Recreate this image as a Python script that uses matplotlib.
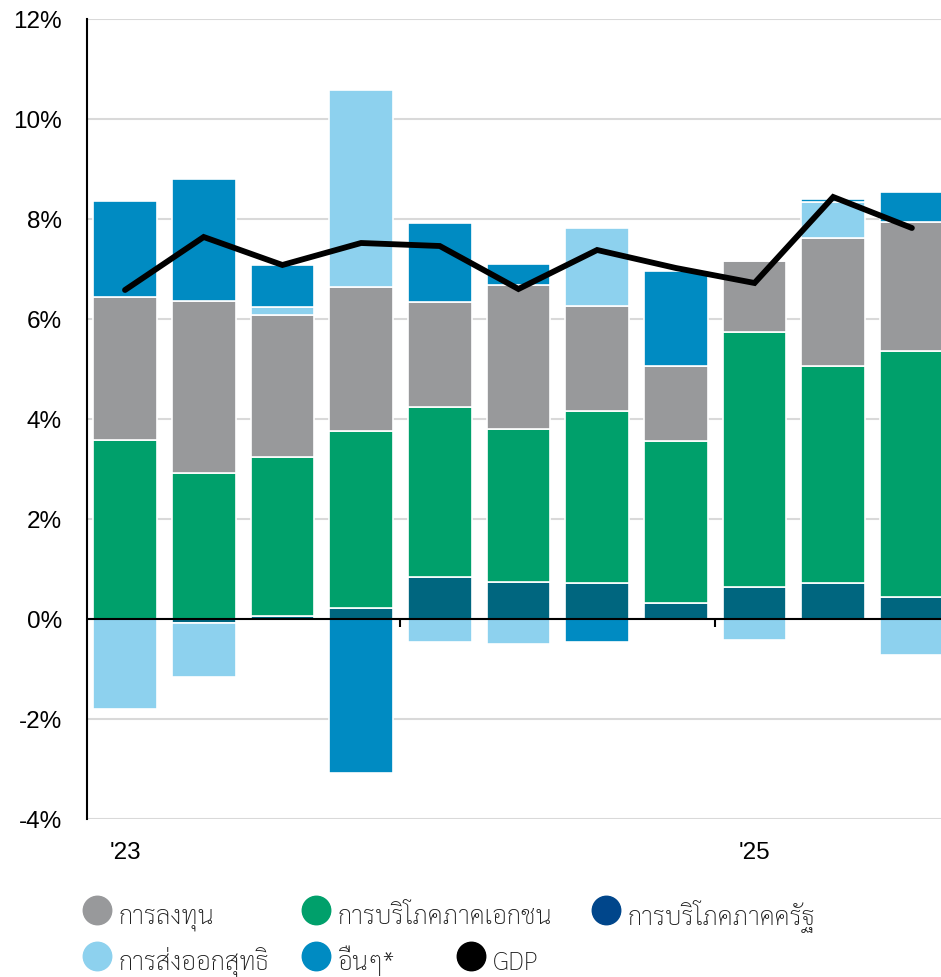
import numpy as np
import matplotlib
matplotlib.use("Agg")
import matplotlib.pyplot as plt
from matplotlib.lines import Line2D

# %% data (quarterly contributions, % points)
quarters = ["1Q23", "2Q23", "3Q23", "4Q23", "1Q24", "2Q24", "3Q24", "4Q24",
            "1Q25", "2Q25", "3Q25"]
year_ticks = [0, 8]
year_labels = ["'23", "'25"]
year_bounds = [3.5, 7.5]

gov = [0.0, -0.08, 0.07, 0.22, 0.84, 0.74, 0.72, 0.32, 0.64, 0.72, 0.44]
private = [3.58, 2.92, 3.17, 3.54, 3.40, 3.06, 3.44, 3.24, 5.10, 4.34, 4.92]
invest = [2.86, 3.44, 2.84, 2.88, 2.10, 2.88, 2.10, 1.50, 1.42, 2.56, 2.58]
exports = [-1.80, -1.08, 0.16, 3.94, -0.46, -0.50, 1.56, 0.0, -0.42, 0.72, -0.72]
others = [1.92, 2.44, 0.84, -3.08, 1.58, 0.42, -0.46, 1.90, 0.0, 0.06, 0.60]
gdp = [6.58, 7.64, 7.08, 7.52, 7.46, 6.60, 7.38, 7.02, 6.72, 8.44, 7.82]

yticks = [-4, -2, 0, 2, 4, 6, 8, 10, 12]
ytick_labels = ["-4%", "-2%", "0%", "2%", "4%", "6%", "8%", "10%", "12%"]

# legend labels
lab_invest = "การลงทุน"
lab_private = "การบริโภคภาคเอกชน"
lab_gov = "การบริโภคภาคครัฐ"
lab_exports = "การส่งออกสุทธิ"
lab_others = "อื่นๆ*"
lab_gdp = "GDP"

c_invest = "#98999b"
c_private = "#00a06b"
c_gov = "#00667f"
c_gov_legend = "#00468b"
c_exports = "#8dd1ee"
c_others = "#008bc2"

plt.rcParams["font.family"] = ["Liberation Sans", "DejaVu Sans"]
thai_font = ["Sarabun", "DejaVu Sans"]

# %% figure
W, H = 941, 978
fig = plt.figure(figsize=(W / 100, H / 100), dpi=100)
ax = fig.add_axes([87 / W, 1 - 820 / H, 1 - 87 / W, 800 / H])

x = np.arange(len(quarters))
pos_base = np.zeros(len(x))
neg_base = np.zeros(len(x))
for vals, col in [(gov, c_gov), (private, c_private), (invest, c_invest),
                  (exports, c_exports), (others, c_others)]:
    v = np.array(vals)
    bottom = np.where(v >= 0, pos_base, neg_base)
    ax.bar(x, v, width=0.81, bottom=bottom, color=col, edgecolor="white",
           linewidth=1.2, zorder=2)
    pos_base += np.clip(v, 0, None)
    neg_base += np.clip(v, None, 0)

ax.plot(x, gdp, color="black", lw=4.2, zorder=5, solid_capstyle="round",
        solid_joinstyle="miter")

ax.axhline(0, color="black", lw=1.5, zorder=4)
ax.plot(year_bounds, [0] * len(year_bounds), ls="none", marker=3, ms=6,
        mew=1.5, color="black", zorder=4, clip_on=False)

ax.set_xlim(-0.483, 10.37)
ax.set_ylim(-4, 12)
ax.set_yticks(yticks, ytick_labels)
ax.set_xticks(year_ticks, year_labels)
ax.tick_params(axis="y", length=0, pad=18, labelsize=17.5)
ax.tick_params(axis="x", length=0, pad=16, labelsize=17.5)
ax.grid(axis="y", color="#d9d9d9", lw=1.5, zorder=0)
ax.set_axisbelow(True)
for s in ["top", "right", "bottom"]:
    ax.spines[s].set_visible(False)
ax.spines["left"].set_color("black")
ax.spines["left"].set_linewidth(1.5)

# %% legend (flow layout like the source)
legend_items = [
    (lab_invest, c_invest, 97, 911),
    (lab_private, c_private, 316, 911),
    (lab_gov, c_gov_legend, 606, 911),
    (lab_exports, c_exports, 97, 957),
    (lab_others, c_others, 316, 957),
    (lab_gdp, "black", 471, 957),
]
for lab, col, px, py in legend_items:
    fig.add_artist(Line2D([px / W], [1 - py / H], transform=fig.transFigure,
                          marker="o", ms=20.5, color=col, ls="none"))
    fig.text((px + 22) / W, 1 - (py + 13) / H, lab, ha="left", va="baseline",
             fontsize=18.5, family=thai_font, weight="light", color="#1a1a1a")

fig.savefig("out.png", dpi=100)
